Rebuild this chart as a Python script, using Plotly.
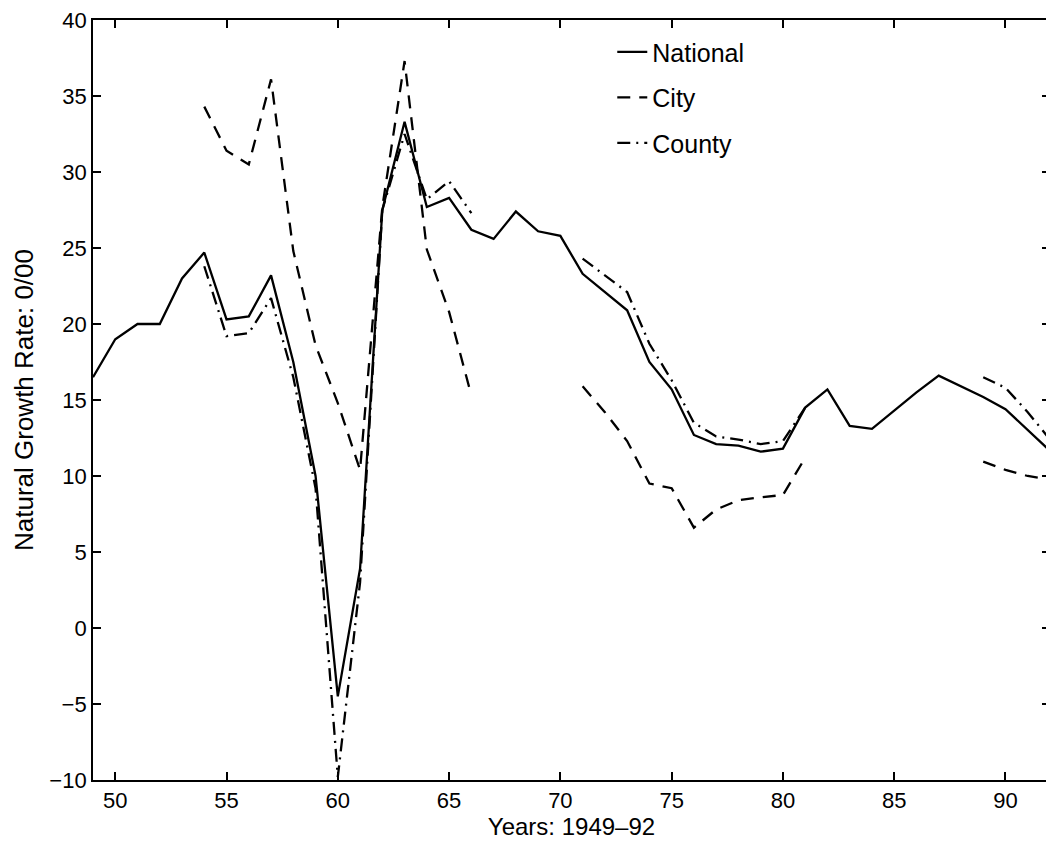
import plotly.graph_objects as go

years = list(range(49, 93))

national = [16.5, 19.0, 20.0, 20.0, 23.0, 24.7, 20.3, 20.5, 23.2, 17.5,
            10.0, -4.5, 3.9, 27.5, 33.3, 27.7, 28.3, 26.2, 25.6, 27.4,
            26.1, 25.8, 23.3, 22.1, 20.9, 17.5, 15.7, 12.7, 12.1, 12.0,
            11.6, 11.8, 14.5, 15.7, 13.3, 13.1, 14.3, 15.5, 16.6, 15.9,
            15.2, 14.4, 13.0, 11.65]

city = [None, None, None, None, None, 34.3, 31.4, 30.5, 36.1, 24.8,
        18.6, 14.8, 10.4, 27.7, 37.3, 24.9, 20.8, 15.3, None, None,
        None, None, 15.9, 14.2, 12.3, 9.5, 9.2, 6.6, 7.8, 8.4,
        8.6, 8.75, 11.2, None, None, None, None, None, None, None,
        10.95, 10.4, 10.0, 9.75]

county = [None, None, None, None, None, 23.8, 19.2, 19.4, 21.7, 16.5,
          9.2, -9.8, 3.0, 27.5, 32.5, 28.2, 29.4, 27.3, None, None,
          None, None, 24.3, 23.2, 22.1, 18.7, 16.3, 13.5, 12.6, 12.4,
          12.1, 12.3, 14.5, None, None, None, None, None, None, None,
          16.5, 15.8, 14.2, 12.4]

series_names = ["National", "City", "County"]
x_tick_vals = [50, 55, 60, 65, 70, 75, 80, 85, 90]
y_tick_vals = [-10, -5, 0, 5, 10, 15, 20, 25, 30, 35, 40]

FONT = "Liberation Sans, Arial, Helvetica, sans-serif"

fig = go.Figure()
styles = [
    dict(color="black", width=2.3, dash="solid"),
    dict(color="black", width=2.3, dash="13px,9px"),
    dict(color="black", width=2.3, dash="13px,6px,2px,6px"),
]
for name, vals, st in zip(series_names, [national, city, county], styles):
    fig.add_trace(go.Scatter(x=years, y=vals, mode="lines", name=name,
                             line=st, connectgaps=False, legendgroup=name))

axis_common = dict(
    showline=True, linecolor="black", linewidth=1.8, mirror="ticks",
    ticks="inside", ticklen=8, tickwidth=1.6, tickcolor="black",
    showgrid=False, zeroline=False, automargin=False,
    ticklabeloverflow="allow",
    tickfont=dict(family=FONT, size=22, color="black"),
)

fig.update_layout(
    width=1054, height=857,
    margin=dict(l=85, r=12, t=12, b=85),
    paper_bgcolor="white", plot_bgcolor="white",
    font=dict(family=FONT, color="black"),
    xaxis=dict(range=[49, 92], tickvals=x_tick_vals,
               title=dict(text="Years: 1949\u201392", standoff=4,
                          font=dict(family=FONT, size=24, color="black")),
               **axis_common),
    yaxis=dict(range=[-10, 40], tickvals=y_tick_vals,
               title=dict(text="Natural Growth Rate: 0/00", standoff=8,
                          font=dict(family=FONT, size=26, color="black")),
               **axis_common),
    legend=dict(x=0.5426, y=0.988, xanchor="left", yanchor="top",
                bgcolor="rgba(0,0,0,0)", borderwidth=0,
                font=dict(family=FONT, size=25, color="black"),
                tracegroupgap=10),
    showlegend=True,
)

fig.write_html("out.html")
